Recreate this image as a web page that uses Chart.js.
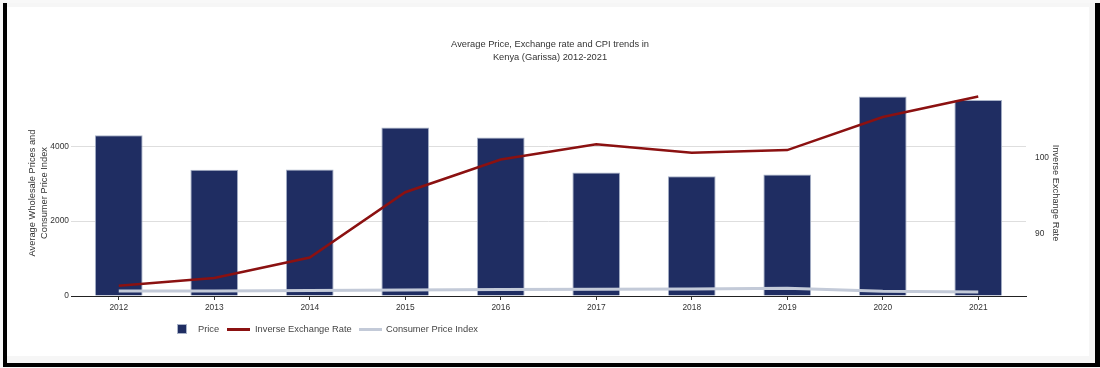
<!DOCTYPE html>
<html>
<head>
<meta charset="utf-8">
<script src="https://cdn.jsdelivr.net/npm/chart.js@4.4.0/dist/chart.umd.js"></script>
<style>
  html, body { margin: 0; padding: 0; background: #f8f8f8; }
  body { width: 1100px; height: 368px; position: relative; overflow: hidden; font-family: "Liberation Sans", Arial, sans-serif; }
  .frame {
    position: absolute; left: 3px; top: 3px; width: 1088px; height: 360px;
    border-left: 4px solid #000; border-right: 5px solid #000; border-bottom: 4px solid #000;
    background: #f6f6f6;
  }
  .inner { position: absolute; left: 0; top: 4px; right: 6px; bottom: 7px; background: #fff; }
  #chart { position: absolute; left: 0; top: 0; z-index: 2; }
  .lg { position: absolute; z-index: 3; font-size: 9.3px; color: #444; line-height: 12px; white-space: nowrap; }
  .box { position: absolute; width: 8px; height: 8px; background: #1f2d62; border: 1px solid #a9b3c8; }
  .ln { position: absolute; height: 3px; }
</style>
</head>
<body>
<div class="frame"><div class="inner"></div></div>
<canvas id="chart" width="1100" height="368"></canvas>

<div class="box" style="left:177px; top:324px;"></div>
<div class="lg" style="left:198px; top:323px;">Price</div>
<div class="ln" style="left:227px; top:328px; width:23px; background:#8b1111;"></div>
<div class="lg" style="left:255px; top:323px;">Inverse Exchange Rate</div>
<div class="ln" style="left:359px; top:328px; width:23px; background:#c3cad8;"></div>
<div class="lg" style="left:386px; top:323px;">Consumer Price Index</div>

<script>
// chart data
const years = ['2012', '2013', '2014', '2015', '2016', '2017', '2018', '2019', '2020', '2021'];
const priceValues = [4295, 3370, 3375, 4500, 4235, 3300, 3195, 3245, 5325, 5235];
const exchangeValues = [83.2, 84.2, 86.9, 95.5, 99.8, 101.8, 100.7, 101.05, 105.4, 108.1];
const cpiValues = [133, 135, 145, 160, 175, 180, 188, 210, 125, 107];

const leftTicks = [0, 2000, 4000];
const rightTicks = [90, 100];

const titleLines = ['Average Price, Exchange rate and CPI trends in', 'Kenya (Garissa) 2012-2021'];

const colors = {
  bar: '#1f2d62',
  barBorder: '#a9b3c8',
  exchange: '#8b1111',
  cpi: '#c3cad8',
  text: '#333',
  grid: '#dedede'
};

Chart.defaults.font.family = '"Liberation Sans", Arial, sans-serif';
Chart.defaults.color = colors.text;

new Chart(document.getElementById('chart'), {
  type: 'bar',
  data: {
    labels: years,
    datasets: [{
      label: 'Inverse Exchange Rate',
      type: 'line',
      data: exchangeValues,
      yAxisID: 'y1',
      borderColor: colors.exchange,
      borderWidth: 2.5,
      pointRadius: 0,
      tension: 0,
      order: 1
    }, {
      label: 'Consumer Price Index',
      type: 'line',
      data: cpiValues,
      yAxisID: 'y',
      borderColor: colors.cpi,
      borderWidth: 3,
      pointRadius: 0,
      tension: 0,
      order: 2
    }, {
      label: 'Price',
      data: priceValues,
      yAxisID: 'y',
      backgroundColor: colors.bar,
      borderColor: colors.barBorder,
      borderWidth: 1,
      barPercentage: 0.5,
      categoryPercentage: 1,
      order: 3
    }]
  },
  options: {
    responsive: false,
    animation: false,
    devicePixelRatio: 1,
    layout: { padding: 0 },
    plugins: {
      legend: { display: false },
      tooltip: { enabled: false },
      title: {
        display: true,
        text: titleLines,
        color: colors.text,
        font: { size: 9.3, weight: 'normal', lineHeight: 1.4 },
        padding: { top: 37.5, bottom: 26.5 }
      }
    },
    scales: {
      x: {
        grid: { drawOnChartArea: false, offset: false, tickLength: 4, color: '#333' },
        border: { color: '#222', width: 1 },
        ticks: { font: { size: 8.4 }, padding: 3, color: colors.text, maxRotation: 0 },
        afterFit: (scale) => { scale.height = 72; }
      },
      y: {
        position: 'left',
        min: 0,
        max: 5500,
        afterBuildTicks: (scale) => { scale.ticks = leftTicks.map(v => ({ value: v })); },
        grid: { color: colors.grid, drawTicks: false },
        border: { display: false },
        ticks: { font: { size: 8.4 }, padding: 2, color: colors.text, callback: (v) => String(v) },
        title: {
          display: true,
          text: ['Average Wholesale Prices and', 'Consumer Price Index'],
          font: { size: 9.3, lineHeight: 1.35 },
          color: colors.text,
          padding: { top: 26, bottom: 0 }
        },
        afterFit: (scale) => { scale.width = 71; }
      },
      y1: {
        position: 'right',
        min: 81.84,
        max: 108.95,
        afterBuildTicks: (scale) => { scale.ticks = rightTicks.map(v => ({ value: v })); },
        grid: { display: false },
        border: { display: false },
        ticks: { font: { size: 8.4 }, padding: 1, color: colors.text, callback: (v) => String(v) },
        title: {
          display: true,
          text: 'Inverse Exchange Rate',
          font: { size: 9.3, lineHeight: 1.35 },
          color: colors.text,
          padding: { top: 38, bottom: 0 }
        },
        afterFit: (scale) => { scale.width = 74; }
      }
    }
  }
});
</script>
</body>
</html>
